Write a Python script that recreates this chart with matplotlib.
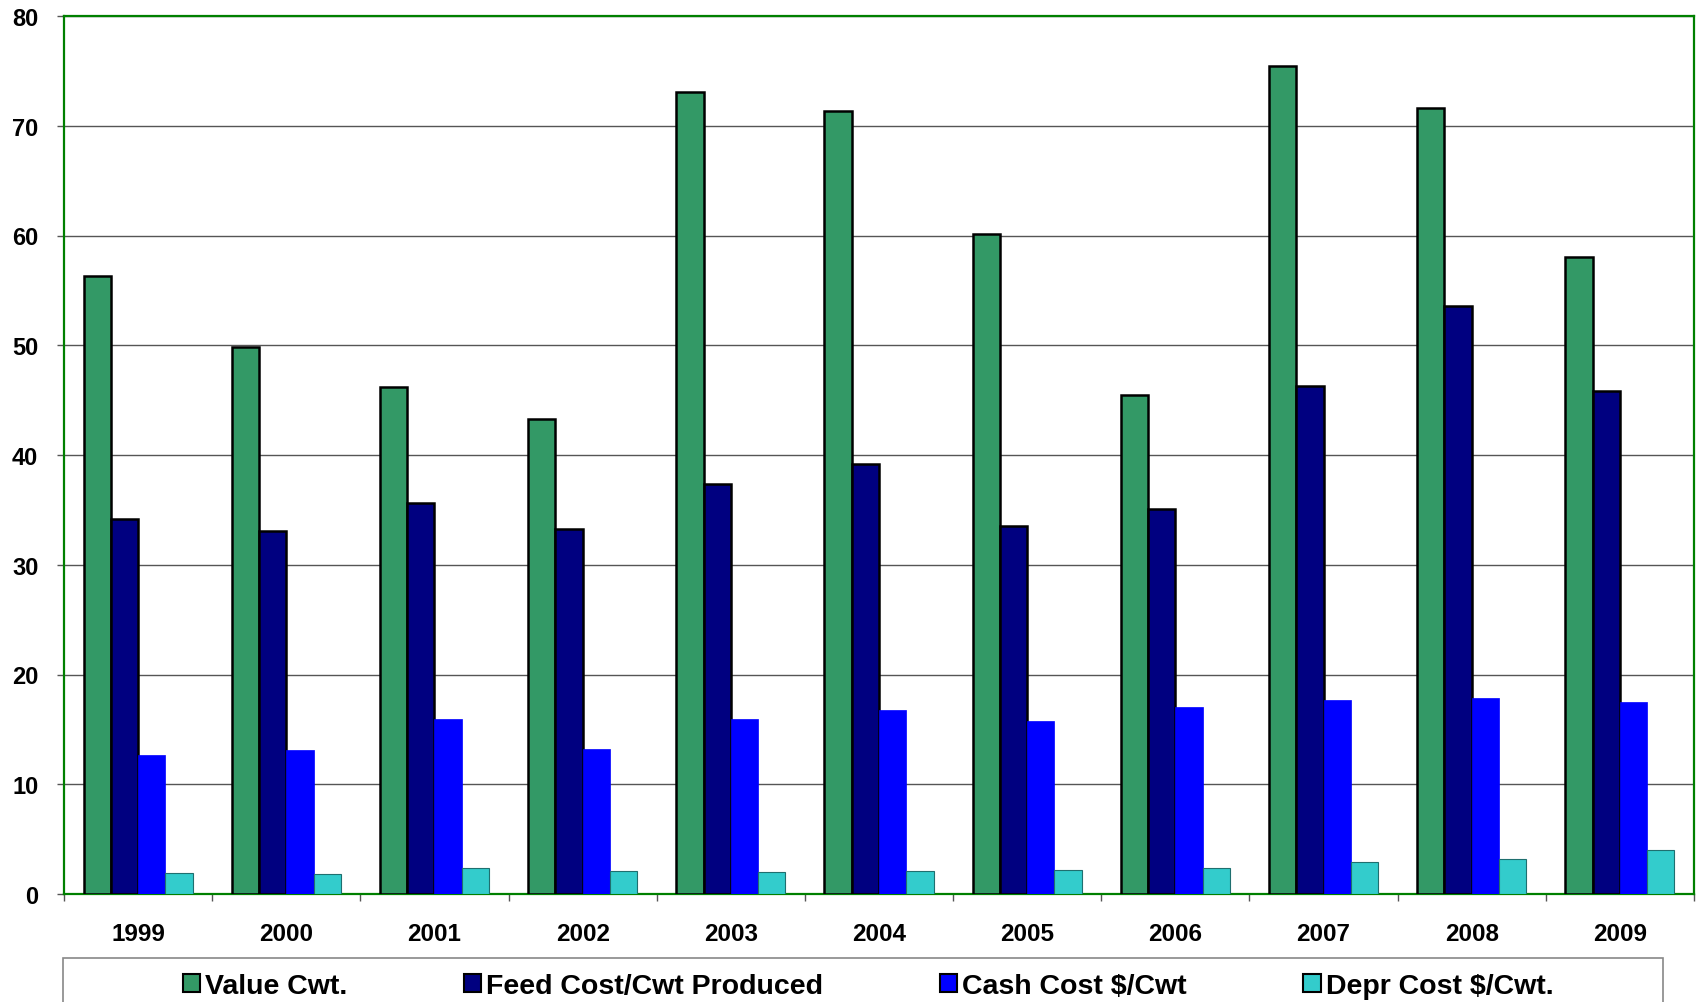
import matplotlib
matplotlib.use("Agg")
import matplotlib.pyplot as plt
import numpy as np
from matplotlib.patches import Rectangle, Patch

years = ["1999", "2000", "2001", "2002", "2003", "2004", "2005", "2006", "2007", "2008", "2009"]
value_cwt = [56.3, 49.8, 46.2, 43.3, 73.1, 71.3, 60.1, 45.5, 75.4, 71.6, 58.0]
feed_cost = [34.2, 33.1, 35.6, 33.3, 37.4, 39.2, 33.5, 35.1, 46.3, 53.6, 45.8]
cash_cost = [12.7, 13.1, 15.9, 13.2, 15.9, 16.8, 15.8, 17.0, 17.7, 17.9, 17.5]
depr_cost = [1.9, 1.8, 2.4, 2.1, 2.0, 2.1, 2.2, 2.4, 2.9, 3.2, 4.0]
series_names = ["Value Cwt.", "Feed Cost/Cwt Produced", "Cash Cost $/Cwt", "Depr Cost $/Cwt."]
colors = ["#339966", "#000080", "#0000FF", "#33CCCC"]

plt.rcParams['font.family'] = ['Liberation Sans', 'DejaVu Sans']
plt.rcParams['font.weight'] = 'bold'

fig = plt.figure(figsize=(16.97, 10.03), dpi=100)
ax = fig.add_axes([64/1697, 108/1003, 1630/1697, 878/1003])

x = np.arange(len(years))
w = 0.184
series = [value_cwt, feed_cost, cash_cost, depr_cost]
edges = ["black", "black", "#0000FF", "#1f6f6f"]
lws = [1.8, 1.8, 0.5, 0.8]
for i, (vals, c) in enumerate(zip(series, colors)):
    ax.bar(x + (i - 1.5) * w, vals, width=w, color=c, edgecolor=edges[i],
           linewidth=lws[i], zorder=3)

ax.set_xlim(-0.5, len(years) - 0.5)
ax.set_ylim(0, 80)
ax.set_yticks(np.arange(0, 81, 10))
ax.yaxis.grid(True, color="#555555", linewidth=1.0, zorder=0)
ax.set_axisbelow(True)

ax.set_xticks(x)
ax.set_xticklabels(years, fontsize=17.5, fontweight='bold')
ax.set_xticks(np.arange(-0.5, len(years), 1.0), minor=True)
ax.tick_params(axis='x', which='major', length=0, pad=20.5)
ax.tick_params(axis='x', which='minor', length=5, width=1, color="#555555", direction='out')
ax.tick_params(axis='y', length=5, width=1, color="#555555", direction='out', pad=13.5, labelsize=17)
for lab in ax.get_yticklabels():
    lab.set_fontweight('bold')

for s in ax.spines.values():
    s.set_color("#008000")
    s.set_linewidth(1.6)

# legend frame (cut off at bottom like the reference)
fig.patches.append(Rectangle((63/1697, -0.02), 1600/1697, (1003 - 959)/1003 + 0.02,
                             transform=fig.transFigure, fill=False,
                             edgecolor="#888888", linewidth=1.2))
handles = [Patch(facecolor=c, edgecolor="black", linewidth=1.5) for c in colors]
leg = fig.legend(handles, series_names, loc='center', bbox_to_anchor=(868/1697, 1 - 987/1003),
                 ncol=4, frameon=False, prop={'size': 20.5, 'weight': 'bold'},
                 handlelength=0.6, handleheight=0.6, handletextpad=0.18, columnspacing=4.1,
                 borderpad=0)

fig.savefig("out.png", dpi=100)
